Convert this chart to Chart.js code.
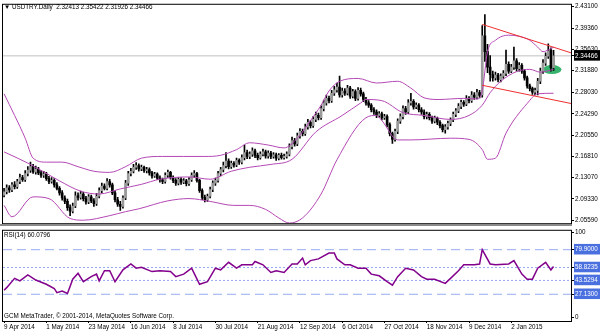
<!DOCTYPE html>
<html>
<head>
<meta charset="utf-8">
<script src="https://cdn.jsdelivr.net/npm/chart.js@4"></script>
<style>
  body { margin: 0; background: #fff; width: 600px; height: 333px; overflow: hidden; position: relative; font-family: "Liberation Sans", Arial, sans-serif; }
  canvas { position: absolute; left: 0; }
  #main { top: 0; }
  #rsi { top: 226px; }
  .lbl { position: absolute; font-size: 6.3px; color: #000; white-space: pre; line-height: 1; }
  .sep { position: absolute; left: 0; top: 224px; width: 572px; height: 2px; background: #8a8a8a; }
</style>
</head>
<body>
<canvas id="main" width="600" height="228"></canvas>
<canvas id="rsi" width="600" height="107"></canvas>
<div class="sep"></div>
<div class="lbl" style="left:4px;top:4px">▼ USDTRY.Daily  2.32413 2.35422 2.31926 2.34466</div>
<div class="lbl" style="left:4px;top:232px">RSI(14) 60.0796</div>
<div class="lbl" style="left:4px;top:313px">GCM MetaTrader, © 2001-2014, MetaQuotes Software Corp.</div>
<script>
// bar dates shown on the time axis (one label every 16 bars)
const dateLabels = ['9 Apr 2014', '1 May 2014', '23 May 2014', '16 Jun 2014', '8 Jul 2014', '30 Jul 2014',
  '21 Aug 2014', '12 Sep 2014', '6 Oct 2014', '27 Oct 2014', '18 Nov 2014', '9 Dec 2014', '2 Jan 2015'];
const barsPerLabel = 16;

// USDTRY daily candles
const opens = [
  2.100, 2.106, 2.113, 2.109, 2.118, 2.115, 2.124, 2.131, 2.127, 2.138,
  2.144, 2.150, 2.141, 2.146, 2.139, 2.135, 2.137, 2.129, 2.124, 2.126,
  2.118, 2.112, 2.104, 2.095, 2.089, 2.078, 2.072, 2.081, 2.099, 2.096,
  2.102, 2.094, 2.088, 2.097, 2.090, 2.085, 2.098, 2.108, 2.116, 2.112,
  2.124, 2.118, 2.104, 2.092, 2.084, 2.080, 2.095, 2.121, 2.138, 2.142,
  2.149, 2.152, 2.146, 2.149, 2.143, 2.145, 2.139, 2.134, 2.137, 2.130,
  2.127, 2.124, 2.135, 2.140, 2.131, 2.126, 2.121, 2.128, 2.123, 2.125,
  2.120, 2.127, 2.135, 2.138, 2.126, 2.108, 2.096, 2.092, 2.098, 2.110,
  2.121, 2.126, 2.138, 2.145, 2.152, 2.160, 2.150, 2.156, 2.153, 2.161,
  2.158, 2.166, 2.175, 2.168, 2.172, 2.178, 2.170, 2.166, 2.172, 2.176,
  2.169, 2.174, 2.168, 2.171, 2.165, 2.170, 2.166, 2.168, 2.172, 2.185,
  2.196, 2.190, 2.204, 2.212, 2.208, 2.220, 2.228, 2.222, 2.233, 2.240,
  2.236, 2.252, 2.262, 2.270, 2.266, 2.279, 2.285, 2.290, 2.276, 2.283,
  2.279, 2.288, 2.274, 2.282, 2.270, 2.284, 2.278, 2.268, 2.262, 2.258,
  2.250, 2.246, 2.240, 2.243, 2.236, 2.238, 2.224, 2.208, 2.198, 2.212,
  2.230, 2.238, 2.252, 2.246, 2.262, 2.265, 2.255, 2.258, 2.250, 2.246,
  2.238, 2.242, 2.236, 2.230, 2.235, 2.228, 2.222, 2.215, 2.220, 2.226,
  2.232, 2.242, 2.248, 2.256, 2.263, 2.260, 2.270, 2.266, 2.276, 2.272,
  2.280, 2.276, 2.380, 2.352, 2.325, 2.312, 2.306, 2.311, 2.303, 2.309,
  2.314, 2.330, 2.318, 2.325, 2.336, 2.322, 2.328, 2.318, 2.306, 2.292,
  2.287, 2.281, 2.284, 2.300, 2.318, 2.332, 2.344, 2.355, 2.32413
];
const highs = [
  2.112, 2.118, 2.117, 2.122, 2.124, 2.128, 2.137, 2.135, 2.143, 2.150,
  2.158, 2.154, 2.151, 2.149, 2.143, 2.142, 2.140, 2.133, 2.131, 2.129,
  2.122, 2.115, 2.108, 2.099, 2.093, 2.083, 2.086, 2.106, 2.104, 2.107,
  2.105, 2.098, 2.101, 2.100, 2.094, 2.103, 2.113, 2.121, 2.120, 2.129,
  2.128, 2.121, 2.108, 2.096, 2.089, 2.099, 2.126, 2.142, 2.147, 2.154,
  2.157, 2.155, 2.153, 2.151, 2.149, 2.148, 2.142, 2.140, 2.139, 2.134,
  2.130, 2.139, 2.144, 2.142, 2.134, 2.129, 2.131, 2.131, 2.129, 2.128,
  2.131, 2.139, 2.143, 2.140, 2.128, 2.111, 2.100, 2.102, 2.114, 2.125,
  2.130, 2.142, 2.149, 2.158, 2.175, 2.164, 2.160, 2.159, 2.165, 2.164,
  2.171, 2.188, 2.179, 2.176, 2.183, 2.181, 2.174, 2.176, 2.181, 2.179,
  2.178, 2.177, 2.175, 2.174, 2.173, 2.174, 2.172, 2.176, 2.190, 2.202,
  2.200, 2.209, 2.217, 2.216, 2.225, 2.233, 2.231, 2.238, 2.246, 2.244,
  2.257, 2.267, 2.276, 2.274, 2.284, 2.291, 2.297, 2.309, 2.288, 2.287,
  2.293, 2.291, 2.286, 2.285, 2.289, 2.288, 2.281, 2.272, 2.266, 2.261,
  2.254, 2.250, 2.247, 2.246, 2.242, 2.241, 2.227, 2.211, 2.216, 2.234,
  2.243, 2.257, 2.256, 2.268, 2.279, 2.268, 2.262, 2.261, 2.254, 2.250,
  2.246, 2.245, 2.239, 2.239, 2.237, 2.231, 2.225, 2.224, 2.230, 2.236,
  2.246, 2.252, 2.261, 2.267, 2.266, 2.275, 2.273, 2.282, 2.280, 2.286,
  2.284, 2.398, 2.417, 2.365, 2.345, 2.318, 2.316, 2.314, 2.313, 2.319,
  2.355, 2.334, 2.330, 2.360, 2.340, 2.333, 2.331, 2.321, 2.309, 2.295,
  2.290, 2.288, 2.305, 2.323, 2.338, 2.350, 2.366, 2.359, 2.35422
];
const lows = [
  2.097, 2.102, 2.105, 2.106, 2.111, 2.112, 2.120, 2.124, 2.124, 2.134,
  2.140, 2.138, 2.137, 2.136, 2.131, 2.131, 2.126, 2.120, 2.121, 2.114,
  2.109, 2.100, 2.091, 2.085, 2.073, 2.064, 2.069, 2.078, 2.091, 2.093,
  2.090, 2.084, 2.085, 2.087, 2.080, 2.082, 2.095, 2.104, 2.109, 2.109,
  2.114, 2.101, 2.088, 2.080, 2.073, 2.077, 2.092, 2.117, 2.134, 2.139,
  2.145, 2.142, 2.143, 2.140, 2.139, 2.135, 2.130, 2.131, 2.127, 2.123,
  2.120, 2.121, 2.131, 2.128, 2.122, 2.117, 2.118, 2.119, 2.120, 2.116,
  2.117, 2.124, 2.131, 2.123, 2.105, 2.092, 2.088, 2.089, 2.095, 2.106,
  2.117, 2.123, 2.134, 2.141, 2.148, 2.146, 2.147, 2.149, 2.150, 2.154,
  2.155, 2.162, 2.164, 2.164, 2.168, 2.166, 2.162, 2.163, 2.169, 2.165,
  2.165, 2.164, 2.165, 2.161, 2.162, 2.163, 2.163, 2.165, 2.169, 2.181,
  2.186, 2.187, 2.200, 2.204, 2.205, 2.216, 2.218, 2.219, 2.229, 2.232,
  2.233, 2.248, 2.258, 2.262, 2.263, 2.275, 2.281, 2.272, 2.272, 2.275,
  2.276, 2.270, 2.271, 2.266, 2.267, 2.274, 2.264, 2.258, 2.254, 2.246,
  2.242, 2.236, 2.237, 2.232, 2.233, 2.220, 2.204, 2.191, 2.195, 2.208,
  2.226, 2.234, 2.242, 2.243, 2.258, 2.251, 2.252, 2.246, 2.242, 2.234,
  2.234, 2.232, 2.226, 2.227, 2.224, 2.218, 2.211, 2.209, 2.216, 2.222,
  2.229, 2.238, 2.245, 2.252, 2.256, 2.257, 2.262, 2.263, 2.268, 2.269,
  2.271, 2.272, 2.335, 2.315, 2.300, 2.300, 2.302, 2.299, 2.299, 2.305,
  2.310, 2.314, 2.315, 2.321, 2.318, 2.318, 2.314, 2.302, 2.288, 2.283,
  2.277, 2.276, 2.276, 2.296, 2.314, 2.328, 2.340, 2.318, 2.31926
];
const closes = [
  2.106, 2.113, 2.109, 2.118, 2.115, 2.124, 2.131, 2.127, 2.138, 2.144,
  2.150, 2.141, 2.146, 2.139, 2.135, 2.137, 2.129, 2.124, 2.126, 2.118,
  2.112, 2.104, 2.095, 2.089, 2.078, 2.072, 2.081, 2.099, 2.096, 2.102,
  2.094, 2.088, 2.097, 2.090, 2.085, 2.098, 2.108, 2.116, 2.112, 2.124,
  2.118, 2.104, 2.092, 2.084, 2.080, 2.095, 2.121, 2.138, 2.142, 2.149,
  2.152, 2.146, 2.149, 2.143, 2.145, 2.139, 2.134, 2.137, 2.130, 2.127,
  2.124, 2.135, 2.140, 2.131, 2.126, 2.121, 2.128, 2.123, 2.125, 2.120,
  2.127, 2.135, 2.138, 2.126, 2.108, 2.096, 2.092, 2.098, 2.110, 2.121,
  2.126, 2.138, 2.145, 2.152, 2.160, 2.150, 2.156, 2.153, 2.161, 2.158,
  2.166, 2.175, 2.168, 2.172, 2.178, 2.170, 2.166, 2.172, 2.176, 2.169,
  2.174, 2.168, 2.171, 2.165, 2.170, 2.166, 2.168, 2.172, 2.185, 2.196,
  2.190, 2.204, 2.212, 2.208, 2.220, 2.228, 2.222, 2.233, 2.240, 2.236,
  2.252, 2.262, 2.270, 2.266, 2.279, 2.285, 2.290, 2.276, 2.283, 2.279,
  2.288, 2.274, 2.282, 2.270, 2.284, 2.278, 2.268, 2.262, 2.258, 2.250,
  2.246, 2.240, 2.243, 2.236, 2.238, 2.224, 2.208, 2.198, 2.212, 2.230,
  2.238, 2.252, 2.246, 2.262, 2.265, 2.255, 2.258, 2.250, 2.246, 2.238,
  2.242, 2.236, 2.230, 2.235, 2.228, 2.222, 2.215, 2.220, 2.226, 2.232,
  2.242, 2.248, 2.256, 2.263, 2.260, 2.270, 2.266, 2.276, 2.272, 2.280,
  2.275, 2.380, 2.352, 2.325, 2.312, 2.306, 2.311, 2.303, 2.309, 2.314,
  2.330, 2.318, 2.325, 2.336, 2.322, 2.328, 2.318, 2.306, 2.292, 2.287,
  2.281, 2.284, 2.300, 2.318, 2.332, 2.344, 2.353, 2.324, 2.34466
];

// Bollinger bands, [bar, price]
const upperBand = [[0, 2.278], [4, 2.240], [8, 2.200], [11, 2.165], [16, 2.158], [22, 2.158], [28, 2.150],
  [34, 2.142], [40, 2.140], [46, 2.150], [52, 2.165], [60, 2.168], [68, 2.168], [76, 2.168], [82, 2.170],
  [88, 2.180], [93, 2.192], [100, 2.188], [106, 2.183], [111, 2.200], [116, 2.231], [120, 2.258],
  [123, 2.283], [127, 2.300], [134, 2.305], [141, 2.297], [149, 2.300], [154, 2.288], [159, 2.271],
  [165, 2.268], [169, 2.269], [174, 2.270], [179, 2.269], [181, 2.283], [183, 2.352], [186, 2.372],
  [191, 2.381], [195, 2.379], [199, 2.372], [202, 2.360], [204, 2.352], [206, 2.355], [208, 2.360]];
const middleBand = [[0, 2.176], [10, 2.154], [21, 2.125], [29, 2.107], [36, 2.102], [44, 2.111], [52, 2.119],
  [59, 2.128], [70, 2.132], [78, 2.128], [86, 2.142], [93, 2.149], [101, 2.154], [109, 2.163],
  [118, 2.211], [128, 2.240], [135, 2.262], [137, 2.268], [143, 2.266], [151, 2.245], [159, 2.240],
  [169, 2.233], [176, 2.240], [181, 2.258], [184, 2.280], [188, 2.300], [194, 2.317], [199, 2.321],
  [203, 2.316], [208, 2.321]];
const lowerBand = [[0, 2.082], [3, 2.062], [11, 2.097], [17, 2.094], [25, 2.059], [30, 2.056], [40, 2.064],
  [46, 2.071], [51, 2.076], [62, 2.090], [70, 2.094], [78, 2.089], [87, 2.082], [93, 2.082], [99, 2.075],
  [104, 2.060], [108, 2.051], [113, 2.060], [120, 2.102], [126, 2.162], [137, 2.236], [141, 2.240],
  [143, 2.231], [149, 2.197], [154, 2.197], [169, 2.200], [176, 2.198], [181, 2.180], [183, 2.163],
  [186, 2.165], [190, 2.209], [198, 2.261], [202, 2.278], [208, 2.279]];

// channel lines drawn by hand on the chart, [bar, price]
const channelTop = [[181, 2.400], [214.6, 2.350]];
const channelBottom = [[181, 2.293], [214.6, 2.261]];
const marker = { x: 207.4, y: 2.3205 };

const priceTicks = [2.05590, 2.09330, 2.13070, 2.16810, 2.20550, 2.24290, 2.28030, 2.31880, 2.35630, 2.39360, 2.43100];
const lastPrice = 2.34466;

// RSI(14), [bar, value]
const rsiPoints = [[0, 32], [1, 35], [4, 46], [6, 43], [9, 50], [12, 44], [16, 39], [19, 34], [20, 29], [22, 31],
  [24, 28], [26, 45], [28, 52], [30, 42], [33, 48], [35, 51], [36, 43], [38, 55], [40, 55], [42, 42],
  [45, 56], [48, 63], [50, 58], [52, 59], [56, 54], [59, 55], [63, 54], [65, 48], [68, 51], [71, 58],
  [74, 39], [77, 42], [80, 58], [82, 56], [85, 65], [88, 58], [90, 62], [94, 62], [95, 66], [98, 62],
  [101, 53], [103, 55], [106, 53], [109, 63], [111, 63], [113, 70], [114, 62], [116, 67], [119, 69],
  [123, 76], [125, 76], [126, 69], [129, 62], [131, 62], [134, 58], [137, 58], [139, 51], [142, 49],
  [145, 42], [147, 38], [149, 48], [152, 58], [155, 56], [158, 48], [160, 45], [163, 45], [167, 40],
  [169, 46], [172, 55], [174, 62], [178, 62], [180, 63], [181, 80], [184, 63], [186, 62], [191, 63],
  [193, 67], [196, 51], [198, 45], [200, 45], [202, 58], [205, 65], [207, 56], [208, 60]];
const rsiDashed = [79.9, 27.13];
const rsiDotted = [58.8235, 43.5294];
const rsiTicks = [0, 27.13, 43.5294, 58.8235, 79.9, 100];

const xMin = -0.4, xMax = 214.6;
const font = { family: '"Liberation Sans", Arial, sans-serif', size: 6.3 };

const toXY = arr => arr.map(([x, y]) => ({ x, y }));
const hline = v => [{ x: xMin, y: v }, { x: xMax, y: v }];

const framePlugin = {
  id: 'frame',
  afterDraw(chart) {
    const a = chart.chartArea, c = chart.ctx;
    c.save();
    c.strokeStyle = '#000';
    c.lineWidth = 1;
    c.strokeRect(a.left - 0.5, a.top - 0.5, a.right - a.left + 1, a.bottom - a.top + 1);
    c.restore();
  }
};

const markerPlugin = {
  id: 'marker',
  beforeDatasetsDraw(chart) {
    const c = chart.ctx;
    const px = chart.scales.x.getPixelForValue(marker.x);
    const py = chart.scales.y.getPixelForValue(marker.y);
    c.save();
    c.fillStyle = '#36b36c';
    c.beginPath();
    c.ellipse(px, py, 9.5, 4.5, 0, 0, Math.PI * 2);
    c.fill();
    c.restore();
  }
};

const lineStyle = (color, width) => ({ type: 'line', borderColor: color, borderWidth: width, pointRadius: 0, fill: false });

new Chart(document.getElementById('main'), {
  type: 'bar',
  data: {
    datasets: [
      Object.assign(lineStyle('#ee3030', 1), { data: toXY(channelTop), order: 0 }),
      Object.assign(lineStyle('#ee3030', 1), { data: toXY(channelBottom), order: 0 }),
      Object.assign(lineStyle('#b448b4', 1), { data: toXY(upperBand), order: 1, cubicInterpolationMode: 'monotone' }),
      Object.assign(lineStyle('#b448b4', 1), { data: toXY(middleBand), order: 1, cubicInterpolationMode: 'monotone' }),
      Object.assign(lineStyle('#b448b4', 1), { data: toXY(lowerBand), order: 1, cubicInterpolationMode: 'monotone' }),
      {
        type: 'bar', order: 3, grouped: false, barThickness: 2, minBarLength: 1, borderWidth: 0,
        data: opens.map((o, i) => ({ x: i, y: [o, closes[i]] })),
        backgroundColor: closes.map((c, i) => c >= opens[i] ? '#9a9a9a' : '#000')
      },
      {
        type: 'bar', order: 4, grouped: false, barThickness: 1, borderWidth: 0,
        data: lows.map((l, i) => ({ x: i, y: [l, highs[i]] })),
        backgroundColor: '#000'
      },
      Object.assign(lineStyle('#c0c0c0', 1), { data: hline(lastPrice), order: 5 })
    ]
  },
  options: {
    responsive: false,
    animation: false,
    devicePixelRatio: 1,
    layout: { padding: { left: 3, top: 1, right: 0, bottom: 3 } },
    plugins: { legend: { display: false }, tooltip: { enabled: false } },
    scales: {
      x: { type: 'linear', min: xMin, max: xMax, offset: false, display: false },
      y: {
        position: 'right', min: 2.0507, max: 2.4344,
        afterBuildTicks: s => { s.ticks = priceTicks.concat([lastPrice]).map(v => ({ value: v })); },
        afterFit: s => { s.width = 29; },
        grid: { drawOnChartArea: false, tickLength: 3, color: '#000' },
        border: { display: true, color: '#000' },
        ticks: {
          autoSkip: false, font, padding: 1,
          callback: v => v.toFixed(5),
          color: ctx => ctx.tick && ctx.tick.value === lastPrice ? '#fff' : '#000',
          showLabelBackdrop: ctx => !!(ctx.tick && ctx.tick.value === lastPrice),
          backdropColor: '#000',
          backdropPadding: { left: 1, right: 3, top: 2, bottom: 1 }
        }
      }
    }
  },
  plugins: [markerPlugin, framePlugin]
});

new Chart(document.getElementById('rsi'), {
  type: 'line',
  data: {
    datasets: [
      Object.assign(lineStyle('#82008c', 1.5), { data: toXY(rsiPoints), order: 0 }),
      ...rsiDashed.map(v => Object.assign(lineStyle('#98abf0', 1), { data: hline(v), borderDash: [9, 5], order: 1 })),
      ...rsiDotted.map(v => Object.assign(lineStyle('#98abf0', 1), { data: hline(v), borderDash: [2, 2], order: 1 }))
    ]
  },
  options: {
    responsive: false,
    animation: false,
    devicePixelRatio: 1,
    layout: { padding: { left: 3, top: 1, right: 0, bottom: 0 } },
    plugins: { legend: { display: false }, tooltip: { enabled: false } },
    scales: {
      x: {
        type: 'linear', min: xMin, max: xMax, offset: false, position: 'bottom',
        afterBuildTicks: s => { s.ticks = dateLabels.map((d, i) => ({ value: i * barsPerLabel })); },
        afterFit: s => { s.height = 12; },
        grid: { drawOnChartArea: false, tickLength: 2, color: '#000' },
        border: { display: true, color: '#000' },
        ticks: { autoSkip: false, maxRotation: 0, align: 'start', padding: 0, font, color: '#000',
          callback: (v, i) => dateLabels[i] }
      },
      y: {
        position: 'right', min: -4.5, max: 102.3,
        afterBuildTicks: s => { s.ticks = rsiTicks.map(v => ({ value: v })); },
        afterFit: s => { s.width = 29; },
        grid: { drawOnChartArea: false, tickLength: 3, color: '#000' },
        border: { display: true, color: '#000' },
        ticks: {
          autoSkip: false, font, padding: 1,
          callback: v => (v === 0 || v === 100) ? String(v) : v.toFixed(4),
          color: ctx => ctx.tick && (ctx.tick.value === 0 || ctx.tick.value === 100) ? '#000' : '#fff',
          showLabelBackdrop: ctx => !!(ctx.tick && ctx.tick.value !== 0 && ctx.tick.value !== 100),
          backdropColor: '#4a70e0',
          backdropPadding: { left: 1, right: 3, top: 2, bottom: 1 }
        }
      }
    }
  },
  plugins: [framePlugin]
});
</script>
</body>
</html>
